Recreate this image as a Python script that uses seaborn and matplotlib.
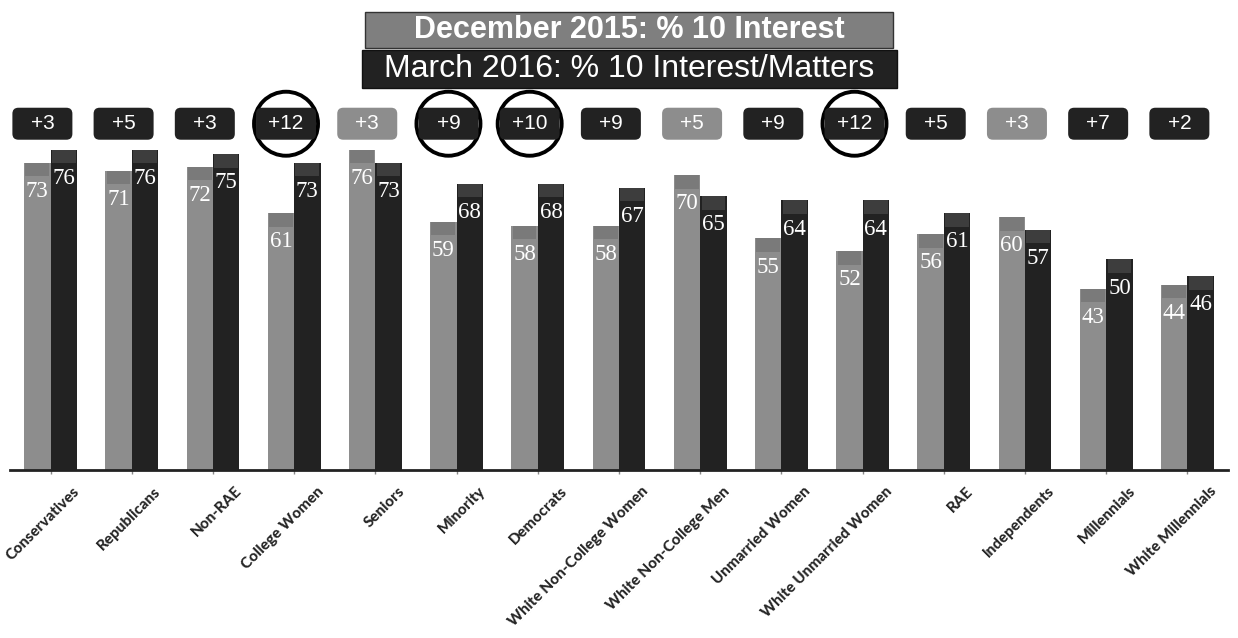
import numpy as np
import pandas as pd
import matplotlib.pyplot as plt
import seaborn as sns
from matplotlib.patches import Rectangle, Ellipse, FancyBboxPatch
from matplotlib.transforms import ScaledTranslation

# Datos
groups = ['Conservatives', 'Republicans', 'Non-RAE', 'College Women', 'Seniors',
          'Minority', 'Democrats', 'White Non-College Women', 'White Non-College Men',
          'Unmarried Women', 'White Unmarried Women', 'RAE', 'Independents',
          'Millennials', 'White Millennials']
dec_2015 = [73, 71, 72, 61, 76, 59, 58, 58, 70, 55, 52, 56, 60, 43, 44]
mar_2016 = [76, 76, 75, 73, 73, 68, 68, 67, 65, 64, 64, 61, 57, 50, 46]
diff_labels = ['+3', '+5', '+3', '+12', '+3', '+9', '+10', '+9', '+5', '+9',
               '+12', '+5', '+3', '+7', '+2']
circled = ['College Women', 'Minority', 'Democrats', 'White Unmarried Women']

series = ['December 2015', 'March 2016']
df = pd.DataFrame({'group': groups * 2,
                   'wave': [series[0]] * len(groups) + [series[1]] * len(groups),
                   'pct': dec_2015 + mar_2016})

gray = '#8d8d8d'
dark = '#222222'
cap_colors = {gray: '#7a7a7a', dark: '#3d3d3d'}

sns.set_style('white')
fig = plt.figure(figsize=(12.38, 6.38), dpi=100)
ax = fig.add_axes([0.008, 0.263, 0.984, 0.588])

sns.barplot(data=df, x='group', y='pct', hue='wave', order=groups,
            hue_order=series, palette=[gray, dark], width=0.65, gap=0,
            saturation=1, legend=False, ax=ax, edgecolor='none')

ax.set_xlim(-0.5, len(groups) - 0.5)
ax.set_ylim(0, 89)

# tapa arriba de cada barra + etiqueta de valor
bars = [p for p in ax.patches if p.get_height() > 0]
for p in bars:
    x, w, h = p.get_x(), p.get_width(), p.get_height()
    col = gray if p.get_facecolor()[0] > 0.4 else dark
    ax.bar(x + w / 2, 3.2, width=w * 0.9, bottom=h - 3.2,
           color=cap_colors[col], edgecolor='none')
    ax.text(x + w / 2, h - 6.8, f'{int(round(h))}', ha='center', va='center',
            color='white', fontsize=16.5, family='Liberation Serif')

# cajas de diferencia (tamano fijo en pixeles)
px_x = 1 / (ax.get_position().width * 1238 / len(groups))
px_y = 89 / (ax.get_position().height * 638)
box_w, box_h = 60 * px_x, 32 * px_y
for i, g in enumerate(groups):
    cx, cy = i - 0.1, 82.2
    box_col = gray if dec_2015[i] > mar_2016[i] else dark
    ax.add_patch(FancyBboxPatch((cx - box_w / 2, cy - box_h / 2), box_w, box_h,
                                boxstyle=f'round,pad=0,rounding_size={6 * px_x}',
                                mutation_aspect=px_y / px_x, fc=box_col, ec='none',
                                clip_on=False, zorder=4))
    ax.text(cx, cy, diff_labels[i], ha='center', va='center', color='white',
            fontsize=15, family='Liberation Sans', clip_on=False, zorder=5)
    if g in circled:
        ax.add_patch(Ellipse((cx, cy), 64 * px_x, 64 * px_y, fill=False,
                             ec='black', lw=2.8, clip_on=False, zorder=3))

# ejes
sns.despine(ax=ax, left=True, top=True, right=True)
ax.spines['bottom'].set_linewidth(2)
ax.spines['bottom'].set_color('#222222')
ax.set_yticks([])
ax.set_xlabel('')
ax.set_ylabel('')
ax.tick_params(axis='x', length=3, width=1, color='#888888', pad=7, bottom=True)
ax.set_xticks(range(len(groups)))
ax.set_xticklabels(groups, rotation=45, ha='right', rotation_mode='anchor',
                   fontsize=11, fontweight='black', family='Lato')
for lab in ax.get_xticklabels():
    lab.set_transform(lab.get_transform() + ScaledTranslation(0.22, 0, fig.dpi_scale_trans))

# leyenda tipo cajas arriba
fig.patches.append(Rectangle((365 / 1238, 1 - 48 / 638), 528 / 1238, 36 / 638,
                             transform=fig.transFigure, fc='#7f7f7f', ec='#333333', lw=1))
fig.patches.append(Rectangle((362 / 1238, 1 - 88 / 638), 535 / 1238, 38 / 638,
                             transform=fig.transFigure, fc=dark, ec='#111111', lw=1))
fig.text(629 / 1238, 1 - 30 / 638, 'December 2015: % 10 Interest', ha='center',
         va='center', color='white', fontsize=22, fontweight='bold',
         family='Liberation Sans')
fig.text(629 / 1238, 1 - 69 / 638, 'March 2016: % 10 Interest/Matters', ha='center',
         va='center', color='white', fontsize=23, family='Liberation Sans')

fig.savefig('out.png', dpi=100)
